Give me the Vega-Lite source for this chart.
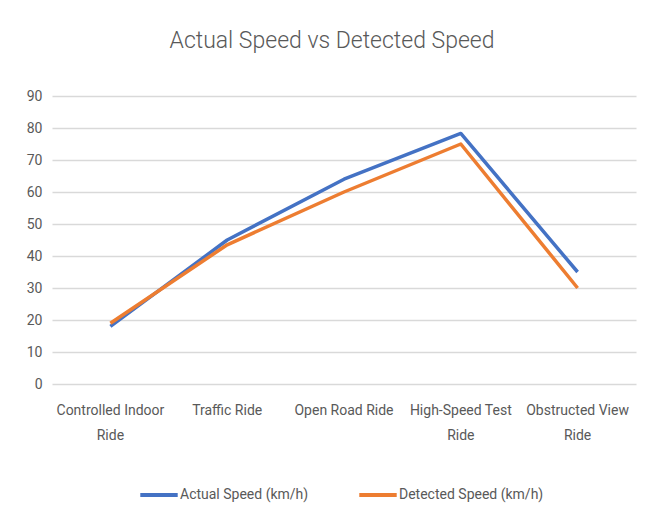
{
  "$schema": "https://vega.github.io/schema/vega-lite/v6.json",
  "width": 584,
  "height": 288,
  "autosize": {"type": "none"},
  "padding": {"left": 52, "top": 96, "right": 21, "bottom": 135},
  "background": "white",
  "title": {
    "text": "Actual Speed vs Detected Speed",
    "anchor": "middle",
    "font": "Roboto",
    "fontSize": 23,
    "fontWeight": 300,
    "color": "#595959",
    "dx": -12,
    "offset": 36
  },
  "data": {
    "values": [
      {"ride": "Controlled Indoor Ride", "series": "Actual Speed (km/h)", "speed": 18},
      {"ride": "Traffic Ride", "series": "Actual Speed (km/h)", "speed": 45},
      {"ride": "Open Road Ride", "series": "Actual Speed (km/h)", "speed": 64},
      {"ride": "High-Speed Test Ride", "series": "Actual Speed (km/h)", "speed": 78.3},
      {"ride": "Obstructed View Ride", "series": "Actual Speed (km/h)", "speed": 35},
      {"ride": "Controlled Indoor Ride", "series": "Detected Speed (km/h)", "speed": 19},
      {"ride": "Traffic Ride", "series": "Detected Speed (km/h)", "speed": 43.5},
      {"ride": "Open Road Ride", "series": "Detected Speed (km/h)", "speed": 60},
      {"ride": "High-Speed Test Ride", "series": "Detected Speed (km/h)", "speed": 75},
      {"ride": "Obstructed View Ride", "series": "Detected Speed (km/h)", "speed": 30}
    ]
  },
  "mark": {"type": "line", "strokeWidth": 3.5, "strokeJoin": "round", "strokeCap": "butt"},
  "encoding": {
    "x": {
      "field": "ride",
      "type": "nominal",
      "sort": null,
      "scale": {"type": "band", "paddingInner": 0, "paddingOuter": 0},
      "axis": {
        "title": null,
        "labelAngle": 0,
        "domain": false,
        "ticks": false,
        "grid": false,
        "labelFont": "Roboto",
        "labelFontSize": 14,
        "labelColor": "#595959",
        "labelPadding": 19,
        "labelLineHeight": 25,
        "labelExpr": "length(datum.value) > 15 ? [substring(datum.value, 0, lastindexof(datum.value, ' ')), substring(datum.value, lastindexof(datum.value, ' ') + 1)] : datum.value"
      }
    },
    "y": {
      "field": "speed",
      "type": "quantitative",
      "scale": {"domain": [0, 90]},
      "axis": {
        "title": null,
        "values": [0, 10, 20, 30, 40, 50, 60, 70, 80, 90],
        "domain": false,
        "ticks": false,
        "gridColor": "#d9d9d9",
        "gridWidth": 1.3,
        "labelFont": "Roboto",
        "labelFontSize": 14,
        "labelColor": "#595959",
        "labelPadding": 10
      }
    },
    "color": {
      "field": "series",
      "type": "nominal",
      "scale": {"range": ["#4472C4", "#ED7D31"]},
      "legend": {
        "title": null,
        "orient": "none",
        "direction": "horizontal",
        "legendX": 86,
        "legendY": 378,
        "symbolType": "stroke",
        "symbolSize": 1400,
        "symbolStrokeWidth": 4,
        "labelFont": "Roboto",
        "labelFontSize": 14,
        "labelColor": "#595959",
        "labelOffset": 0,
        "columnPadding": 42
      }
    }
  },
  "config": {"view": {"stroke": null}}
}
